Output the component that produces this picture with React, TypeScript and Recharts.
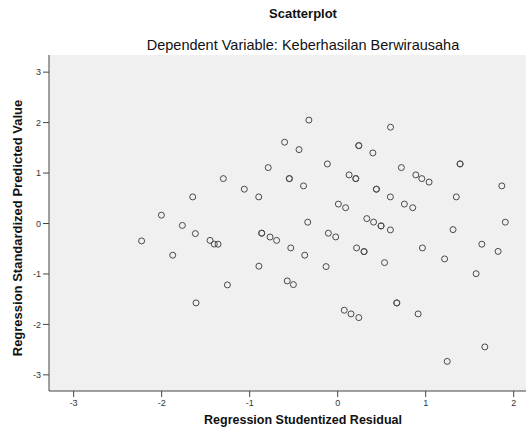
import React from "react";
import { ScatterChart, Scatter, XAxis, YAxis, CartesianGrid } from "recharts";

const residualX: number[] = [
  -2.228, -2.003, -1.874, -1.765, -1.647, -1.617, -1.609, -1.45, -1.402, -1.359,
  -1.299, -1.253, -1.061, -0.897, -0.895, -0.863, -0.863, -0.789, -0.768, -0.694,
  -0.603, -0.549, -0.549, -0.533, -0.573, -0.503, -0.439, -0.388, -0.374, -0.327,
  -0.34, -0.117, -0.132, -0.106, -0.022, 0.008, 0.09, 0.075, 0.152, 0.24,
  0.13, 0.206, 0.206, 0.215, 0.24, 0.24, 0.3, 0.3, 0.331, 0.408,
  0.4, 0.44, 0.44, 0.493, 0.493, 0.533, 0.601, 0.599, 0.599, 0.672,
  0.672, 0.724, 0.758, 0.853, 0.888, 0.956, 1.039, 0.914, 0.963, 1.215,
  1.245, 1.311, 1.348, 1.391, 1.391, 1.573, 1.638, 1.672, 1.823, 1.865, 1.905,
];

const predictedY: number[] = [
  -0.345, 0.165, -0.628, -0.038, 0.527, -0.2, -1.574, -0.335, -0.408, -0.41,
  0.89, -1.217, 0.68, 0.527, -0.846, -0.192, -0.192, 1.108, -0.268, -0.335,
  1.611, 0.89, 0.89, -0.484, -1.138, -1.211, 1.465, 0.745, -0.628, 2.05,
  0.026, 1.181, -0.854, -0.192, -0.266, 0.385, 0.313, -1.719, -1.792, -1.865,
  0.963, 0.89, 0.89, -0.484, 1.544, 1.544, -0.557, -0.557, 0.097, 0.028,
  1.399, 0.68, 0.68, -0.048, -0.048, -0.775, 1.909, 0.527, -0.127, -1.574,
  -1.574, 1.108, 0.385, 0.313, 0.963, 0.89, 0.821, -1.792, -0.484, -0.702,
  -2.733, -0.121, 0.527, 1.181, 1.181, -0.995, -0.41, -2.446, -0.553, 0.745, 0.026,
];

const xTicks: number[] = [-3, -2, -1, 0, 1, 2];
const yTicks: number[] = [-3, -2, -1, 0, 1, 2, 3];

const chartTitle = "Scatterplot";
const chartSubtitle = "Dependent Variable: Keberhasilan Berwirausaha";
const xTitle = "Regression Studentized Residual";
const yTitle = "Regression Standardized Predicted Value";

const points = residualX.map((x, i) => ({ x, y: predictedY[i] }));

const FONT = "'Liberation Sans', Arial, sans-serif";

const Ring = (props: any) => {
  const { cx, cy } = props;
  if (cx == null || cy == null) return null;
  return <circle cx={cx} cy={cy} r={3} fill="none" stroke="#4a4a4a" strokeWidth={1} />;
};

export default function App() {
  return (
    <div style={{ position: "absolute", left: 0, top: 0, width: 526, height: 433, background: "#fff", fontFamily: FONT }}>
      <div style={{ position: "absolute", left: 0, width: 606, top: 6, textAlign: "center", fontSize: 13, fontWeight: "bold", color: "#111" }}>
        {chartTitle}
      </div>
      <div style={{ position: "absolute", left: 0, width: 606, top: 37, textAlign: "center", fontSize: 14.5, color: "#111" }}>
        {chartSubtitle}
      </div>
      <div style={{ position: "absolute", left: 0, width: 606, top: 413, textAlign: "center", fontSize: 12.5, fontWeight: "bold", color: "#111" }}>
        {xTitle}
      </div>
      <div
        style={{
          position: "absolute",
          left: 18 - 150,
          top: 228 - 9,
          width: 300,
          height: 18,
          lineHeight: "18px",
          textAlign: "center",
          fontSize: 13,
          fontWeight: "bold",
          color: "#111",
          transform: "rotate(-90deg)",
        }}
      >
        {yTitle}
      </div>
      <ScatterChart width={526} height={433} margin={{ top: 55, right: 0, bottom: 0, left: 0 }}>
        <CartesianGrid fill="#f0f0f0" horizontal={false} vertical={false} />
        <XAxis
          xAxisId="main"
          type="number"
          dataKey="x"
          domain={[-3.28, 2.14]}
          ticks={xTicks}
          allowDataOverflow
          height={42}
          tickSize={6}
          tickMargin={3}
          axisLine={{ stroke: "#444" }}
          tickLine={{ stroke: "#444" }}
          tick={{ fontSize: 9, fill: "#333", fontFamily: FONT }}
        />
        <XAxis
          xAxisId="top"
          orientation="top"
          type="number"
          dataKey="x"
          domain={[-3.28, 2.14]}
          allowDataOverflow
          height={0}
          tick={false}
          tickLine={false}
          axisLine={{ stroke: "#444" }}
        />
        <YAxis
          type="number"
          dataKey="y"
          domain={[-3.32, 3.34]}
          ticks={yTicks}
          allowDataOverflow
          width={49}
          tickSize={6}
          tickMargin={2}
          axisLine={{ stroke: "#444" }}
          tickLine={{ stroke: "#444" }}
          tick={{ fontSize: 9, fill: "#333", fontFamily: FONT }}
        />
        <Scatter xAxisId="main" data={points} shape={Ring} isAnimationActive={false} />
      </ScatterChart>
    </div>
  );
}
